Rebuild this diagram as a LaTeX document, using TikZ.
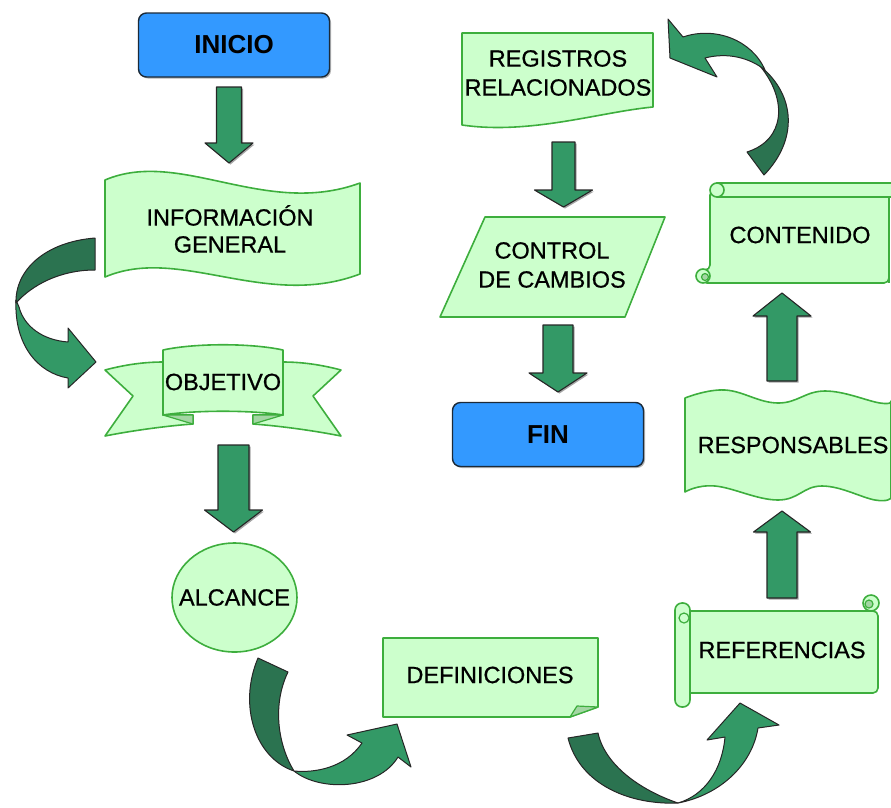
\documentclass[tikz,border=0pt]{standalone}
\usepackage{fontspec}
\setmainfont{Liberation Sans}
\newfontfamily\heavysans{Liberation Sans}[FakeBold=0.7]
\usetikzlibrary{shadows,shapes.geometric}

\definecolor{paleg}{HTML}{CCFFCC}
\definecolor{edgeg}{HTML}{3DAE3D}
\definecolor{arrowg}{HTML}{339966}
\definecolor{arrowdk}{HTML}{2B7350}
\definecolor{foldg}{HTML}{A3D6A3}
\definecolor{startblue}{HTML}{3399FF}
\definecolor{startedge}{HTML}{1C2A38}

\tikzset{
  shapefill/.style={fill=paleg, draw=edgeg, line width=1.6pt, line join=round},
  foldfill/.style={fill=foldg, draw=edgeg, line width=1.2pt, line join=round},
  blockarrow/.style={fill=arrowg, draw=black!85, line width=1.1pt, line join=round,
    drop shadow={shadow xshift=1.5pt, shadow yshift=-1.5pt, fill=black, opacity=0.35}},
  frontband/.style={fill=arrowg, draw=black!85, line width=1pt, line join=round},
  backband/.style={fill=arrowdk, draw=black!85, line width=1pt, line join=round},
  txt/.style={font=\heavysans\fontsize{23.5}{27}\selectfont, align=center, text=black, inner sep=0pt},
  term/.style={rounded corners=8pt, fill=startblue, draw=startedge, line width=1.4pt,
    font=\bfseries\fontsize{26}{28}\selectfont, minimum width=191pt, minimum height=64pt,
    drop shadow={shadow xshift=1.5pt, shadow yshift=-1.5pt, fill=black, opacity=0.3}},
}

% straight block arrow: x, top end, head base, tip, half shaft, half head
\newcommand\blkarrow[6]{%
  \draw[blockarrow] (#1-#5,#2) -- (#1+#5,#2) -- (#1+#5,#3) -- (#1+#6,#3)
    -- (#1,#4) -- (#1-#6,#3) -- (#1-#5,#3) -- cycle;}

\begin{document}
\begin{tikzpicture}[x=1pt,y=-1pt]
\useasboundingbox (0,0) rectangle (891,807);

% ---------- left column ----------
\node[term] (inicio) at (234,45) {INICIO};
\blkarrow{229}{87}{143}{163}{12.5}{24}

% información general (wavy banner)
\draw[shapefill] (105,180) .. controls (180,148) and (265,218) .. (360,183)
  -- (360,274) .. controls (265,310) and (180,245) .. (105,277) -- cycle;
\node[txt] (info) at (230,229) {INFORMACIÓN\\GENERAL};

% curved arrow: información -> objetivo
\draw[backband] (95,238) .. controls (45,242) and (15,270) .. (16,303)
  .. controls (32,285) and (60,270) .. (95,270) -- cycle;
\draw[frontband] (16,300) .. controls (14,345) and (38,373) .. (68,378)
  -- (68,388) -- (96,362) -- (68,328) -- (68,342)
  .. controls (42,340) and (24,326) .. (19,307) -- cycle;

% objetivo ribbon
\draw[shapefill] (163,362) .. controls (140,362) and (120,366) .. (105,370) -- (133,396)
  -- (105,436) .. controls (130,431) and (165,426) .. (193,424) -- (193,415) -- (163,415) -- cycle;
\draw[shapefill] (283,362) .. controls (306,362) and (326,366) .. (341,370) -- (313,396)
  -- (341,436) .. controls (316,431) and (281,426) .. (253,424) -- (253,415) -- (283,415) -- cycle;
\draw[foldfill] (163,415) -- (193,424) -- (193,415) -- cycle;
\draw[foldfill] (283,415) -- (253,424) -- (253,415) -- cycle;
\draw[shapefill] (163,350) .. controls (195,343) and (251,343) .. (283,350)
  -- (283,415) .. controls (251,410) and (195,410) .. (163,415) -- cycle;
\node[txt] (obj) at (223,382) {OBJETIVO};

\blkarrow{233.5}{445}{510}{532}{15.5}{29}

% alcance
\node[shapefill, ellipse, minimum width=125pt, minimum height=109pt, inner sep=0pt] (alcshape) at (234.5,597.5) {};
\node[txt] (alc) at (alcshape.center) {ALCANCE};

% curved arrow: alcance -> definiciones
\draw[backband] (258,658) .. controls (238,705) and (255,758) .. (294,771)
  .. controls (278,745) and (272,705) .. (288,672) -- cycle;
\draw[frontband] (294,771) .. controls (320,792) and (378,790) .. (398,757)
  -- (411,767) -- (397,724) -- (347,735) -- (362,743)
  .. controls (345,768) and (315,773) .. (294,771) -- cycle;

% definiciones (note with folded corner)
\draw[shapefill] (383,638) -- (598,638) -- (598,707) -- (570,717) -- (383,717) -- cycle;
\draw[foldfill] (570,717) -- (577,706) -- (598,707) -- cycle;
\node[txt] (def) at (490,675) {DEFINICIONES};

% curved arrow: definiciones -> referencias
\draw[backband] (568,738) .. controls (580,785) and (630,805) .. (678,803)
  .. controls (640,790) and (605,765) .. (598,733) -- cycle;
\draw[frontband] (678,803) .. controls (720,795) and (752,765) .. (758,728)
  -- (779,725) -- (740,703) -- (707,740) -- (725,737)
  .. controls (722,770) and (705,795) .. (678,803) -- cycle;

% ---------- right column ----------
% referencias (scroll)
\draw[shapefill, rounded corners=5pt] (686,611) -- (878,611) -- (878,693) -- (686,693) -- cycle;
\draw[shapefill] (871,603) circle[radius=8];
\draw[foldfill] (869,604) circle[radius=4];
\draw[shapefill, rounded corners=7pt] (675,603) rectangle (690,707);
\draw[edgeg, line width=1.2pt] (684,618) circle[radius=5];
\node[txt] (ref) at (782,650) {REFERENCIAS};

\blkarrow{782}{598}{532}{511}{15}{28.5}

% responsables (wavy band)
\draw[shapefill] plot[smooth, tension=0.7] coordinates {(685,398) (725,390) (778,403) (825,391) (880,403) (891,401)}
  -- plot[smooth, tension=0.7] coordinates {(891,498) (875,500) (822,486) (778,500) (715,486) (685,492)} -- cycle;
\node[txt] (resp) at (793,445) {RESPONSABLES};

\blkarrow{782}{381}{316}{293}{15}{29}

% contenido (scroll)
\draw[shapefill, rounded corners=5pt] (710,190) -- (889,190) -- (889,283) -- (702,283) -- (702,270) -- (710,270) -- cycle;
\draw[shapefill] (717,183) rectangle (893,197);
\draw[shapefill] (717,190) circle[radius=7];
\draw[shapefill] (703,276) circle[radius=7];
\draw[foldfill] (705,277) circle[radius=3.5];
\draw[edgeg, line width=1.2pt] (889,197) -- (889,283);
\node[txt] (cont) at (800,235) {CONTENIDO};

% curved arrow: contenido -> registros
\draw[backband] (764,175) .. controls (798,140) and (796,95) .. (760,66)
  .. controls (788,100) and (785,140) .. (747,152) -- cycle;
\draw[frontband] (765,70) .. controls (752,40) and (715,26) .. (683,37)
  -- (668,19) -- (670,58) -- (717,77) -- (705,58)
  .. controls (728,52) and (750,58) .. (765,70) -- cycle;

% registros relacionados (document)
\draw[shapefill] (462,33) -- (653,33) -- (653,107)
  .. controls (600,112) and (530,135) .. (462,125) -- cycle;
\node[txt, font=\heavysans\fontsize{23.5}{29}\selectfont] (reg) at (558,73) {REGISTROS\\RELACIONADOS};

\blkarrow{563.5}{142}{190}{207}{11.5}{29}

% control de cambios (parallelogram)
\draw[shapefill] (485,217) -- (665,217) -- (625,317) -- (440,317) -- cycle;
\node[txt, font=\heavysans\fontsize{23.5}{29}\selectfont] (ctrl) at (552,265) {CONTROL\\DE CAMBIOS};

\blkarrow{558}{325}{373}{392}{15}{29}

\node[term] (fin) at (548,434.5) {FIN};
\end{tikzpicture}
\end{document}
